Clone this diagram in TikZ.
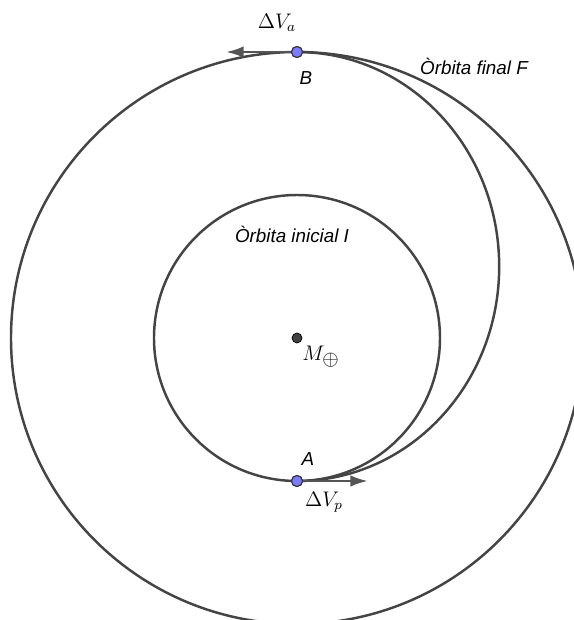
\documentclass[tikz,border=0pt]{standalone}
\usepackage{amsmath,amssymb}
\usepackage{fontspec}
\setsansfont{Liberation Sans}
\usepackage{tikz}
\usetikzlibrary{positioning,calc,arrows.meta}

\definecolor{orbitgray}{HTML}{444444}
\definecolor{velgray}{HTML}{555555}
\definecolor{ptblue}{HTML}{7B7BFF}
\tikzset{
  orbit/.style={draw=orbitgray, line width=1.4pt},
  vel/.style={draw=velgray, line width=1.5pt, -{Latex[length=10pt,width=6.5pt]}},
  pt/.style={circle, draw=black!80, fill=ptblue, line width=0.6pt, inner sep=0pt, minimum size=0.22cm},
  lbl/.style={font=\fontsize{10.7}{12}\selectfont\sffamily\itshape},
  mlbl/.style={font=\fontsize{11.5}{13}\selectfont}
}

\begin{document}
\begin{tikzpicture}
  \useasboundingbox (-5.94, -5.64) rectangle (5.54, 6.76);
  \clip (-5.94, -5.64) rectangle (5.54, 6.76);

  % Earth
  \coordinate (O) at (0, 0);
  \coordinate (pA) at (0, -2.86);
  \coordinate (pB) at (0, 5.72);

  % Orbits
  \draw[orbit] (O) circle (2.86cm);
  \draw[orbit] (O) circle (5.72cm);
  \draw[orbit] (pA) arc[start angle=-90, end angle=90, x radius=4.044, y radius=4.29]; % Transfer

  % Velocity increments
  \coordinate (tipA) at (1.42, -2.86);
  \coordinate (tipB) at (-1.42, 5.72);
  \node[pt] (A) at (pA) {};
  \node[pt] (B) at (pB) {};
  \draw[vel] (A) -- (tipA);
  \draw[vel] (B) -- (tipB);
  \node[pt] at (pA) {};
  \node[pt] at (pB) {};

  % Centre
  \node[circle, fill=black!75, draw=black, inner sep=0pt, minimum size=0.2cm] (M) at (O) {};
  \node[mlbl] (ml) at (0.48, -0.38) {$M_{\textstyle\oplus}$};

  % Labels
  \node[lbl] (la) at (0.22, -2.42) {A};
  \node[lbl] (lb) at (0.18, 5.2) {B};
  \node[mlbl] (dva) at (-0.4, 6.3) {$\Delta V_a$};
  \node[mlbl] (dvp) at (0.54, -3.28) {$\Delta V_p$};
  \node[lbl] (lf) at (3.54, 5.44) {Òrbita final F};
  \node[lbl] (li) at (-0.1, 2.08) {Òrbita inicial I};
\end{tikzpicture}
\end{document}
